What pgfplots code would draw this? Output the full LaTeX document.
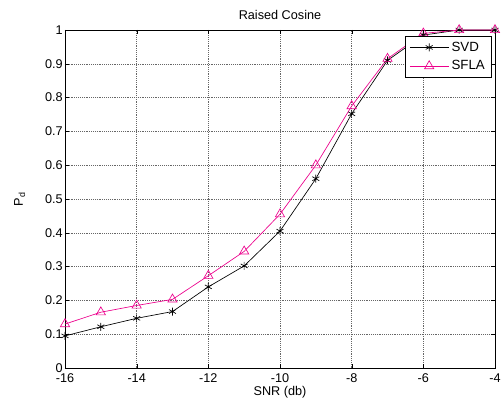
\documentclass[border=0pt]{standalone}
\usepackage{fontspec}
\setmainfont{Liberation Sans}
\usepackage{pgfplots}
\pgfplotsset{compat=1.18}
\begin{document}
\begin{tikzpicture}
\begin{axis}[
  scale only axis,
  width=322.5pt, height=253.5pt,
  xmin=-16, xmax=-4, ymin=0, ymax=1,
  xtick={-16,-14,...,-4},
  ytick={0,0.1,...,1},
  yticklabel style={/pgf/number format/fixed, anchor=east, inner sep=0pt, xshift=-1.5pt},
  xticklabel style={anchor=center, inner sep=0pt, yshift=-7.5pt},
  /pgf/number format/assume math mode=true,
  tick align=inside,
  tick pos=both,
  major tick length=3pt,
  grid=major,
  major grid style={densely dotted, black!60},
  axis line style={black, line width=0.7pt},
  tick style={black},
  font=\fontsize{9.5}{11}\selectfont,
  title={Raised Cosine},
  title style={at={(axis description cs:0.5,1)}, anchor=center, yshift=5pt, inner sep=0pt},
  xlabel={SNR (db)},
  ylabel={P$_\mathrm{d}$},
  xlabel style={at={(axis description cs:0.5,0)}, anchor=center, yshift=-18pt, inner sep=0pt},
  ylabel style={at={(axis description cs:0,0.5)}, anchor=center, yshift=34pt, inner sep=0pt},
  legend style={at={(1,1)}, xshift=-2.25pt, yshift=-4.5pt, anchor=north east,
    draw=black, line width=0.7pt, font=\fontsize{10}{12}\selectfont,
    inner xsep=3pt, inner ysep=2pt, row sep=1.5pt},
  legend cell align=left,
  legend image code/.code={
    \draw[#1, mark repeat=2, mark phase=2] plot coordinates {(0pt,0pt) (14.5pt,0pt) (29pt,0pt)};},
]
\addplot[black, mark=asterisk, mark size=3pt, line width=0.5pt] coordinates {
(-16,0.095) (-15,0.122) (-14,0.147) (-13,0.167) (-12,0.240) (-11,0.302)
(-10,0.405) (-9,0.560) (-8,0.752) (-7,0.910) (-6,0.985) (-5,1.0) (-4,1.0)};
\addlegendentry{SVD}
\addplot[magenta, mark=triangle, mark size=4pt, line width=0.5pt] coordinates {
(-16,0.130) (-15,0.165) (-14,0.185) (-13,0.203) (-12,0.273) (-11,0.345)
(-10,0.455) (-9,0.600) (-8,0.775) (-7,0.915) (-6,0.990) (-5,1.0) (-4,1.0)};
\addlegendentry{SFLA}
\end{axis}
\pgfresetboundingbox
\path[use as bounding box] ([shift={(-48.75pt,-27pt)}]current axis.south west)
  rectangle ([shift={(4.5pt,22.5pt)}]current axis.north east);
\end{tikzpicture}
\end{document}
